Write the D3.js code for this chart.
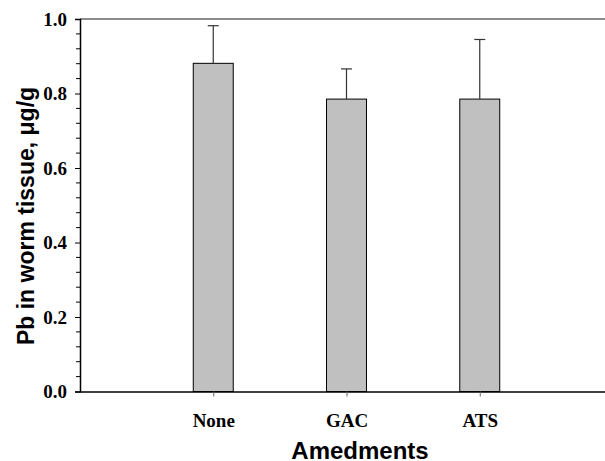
<!DOCTYPE html>
<html>
<head>
<meta charset="utf-8">
<script src="https://cdn.jsdelivr.net/npm/d3@7"></script>
<style>
  body { margin: 0; background: #fff; }
  .tick-label { font-family: "Liberation Serif", "Times New Roman", serif; font-weight: bold; font-size: 19px; }
  .axis-title { font-family: "Liberation Sans", Arial, sans-serif; font-weight: bold; font-size: 24px; }
</style>
</head>
<body>
<svg width="605" height="461"></svg>
<script>
const categories = ["None", "GAC", "ATS"];
const means = [0.881, 0.785, 0.785];
const errors = [0.101, 0.081, 0.160];
const yTicks = [0.0, 0.2, 0.4, 0.6, 0.8, 1.0];

const svg = d3.select("svg");

const plotLeft = 80, plotRight = 613, plotTop = 19, plotBottom = 391.5;

const xScale = d3.scalePoint().domain(categories).range([plotLeft, plotRight]).padding(1);
const yScale = d3.scaleLinear().domain([0, 1]).range([plotBottom, plotTop]);
const barWidth = xScale.step() * 0.3;

// Top frame line
svg.append("line")
  .attr("x1", plotLeft).attr("x2", plotRight)
  .attr("y1", yScale(1)).attr("y2", yScale(1))
  .attr("stroke", "#666").attr("stroke-width", 1.5);

// Bars
svg.append("g")
  .selectAll("rect")
  .data(categories)
  .enter()
  .append("rect")
  .attr("x", (d) => xScale(d) - barWidth / 2)
  .attr("y", (d, i) => yScale(means[i]))
  .attr("width", barWidth)
  .attr("height", (d, i) => yScale(0) - yScale(means[i]))
  .attr("fill", "#c0c0c0")
  .attr("stroke", "#000")
  .attr("stroke-width", 1);

// Error bars (upper only)
const err = svg.append("g").attr("stroke", "#333").attr("stroke-width", 1.2);
categories.forEach((c, i) => {
  const x = xScale(c);
  err.append("line")
    .attr("x1", x).attr("x2", x)
    .attr("y1", yScale(means[i])).attr("y2", yScale(means[i] + errors[i]));
  err.append("line")
    .attr("x1", x - 5.5).attr("x2", x + 5.5)
    .attr("y1", yScale(means[i] + errors[i])).attr("y2", yScale(means[i] + errors[i]));
});

// Y axis
const yAxis = svg.append("g")
  .attr("transform", "translate(" + plotLeft + ",0)")
  .call(d3.axisLeft(yScale).tickValues(yTicks).tickFormat(d3.format(".1f")).tickSize(5).tickPadding(8));
yAxis.select(".domain").attr("stroke", "#000").attr("stroke-width", 1.5);
yAxis.selectAll("text").attr("class", "tick-label").attr("fill", "#000");

// Minor ticks
svg.append("g")
  .selectAll("line")
  .data(d3.range(0, 1.0001, 0.04).filter((v) => Math.abs(v * 5 - Math.round(v * 5)) > 1e-6))
  .enter()
  .append("line")
  .attr("x1", plotLeft - 4).attr("x2", plotLeft)
  .attr("y1", (d) => yScale(d)).attr("y2", (d) => yScale(d))
  .attr("stroke", "#000");

// X axis
const xAxis = svg.append("g")
  .attr("transform", "translate(0," + plotBottom + ")")
  .call(d3.axisBottom(xScale).tickSize(5).tickPadding(17).tickSizeOuter(0));
xAxis.select(".domain").attr("stroke", "#000").attr("stroke-width", 1.5);
xAxis.selectAll("line").attr("stroke", "#666");
xAxis.selectAll("text").attr("class", "tick-label").attr("fill", "#000");

// Axis titles
svg.append("text")
  .attr("class", "axis-title")
  .attr("x", 360)
  .attr("y", 459)
  .attr("text-anchor", "middle")
  .text("Amedments");

svg.append("text")
  .attr("class", "axis-title")
  .attr("text-anchor", "middle")
  .style("font-size", "23px")
  .attr("transform", "translate(34,216)rotate(-90)")
  .text("Pb in worm tissue, μg/g");
</script>
</body>
</html>
